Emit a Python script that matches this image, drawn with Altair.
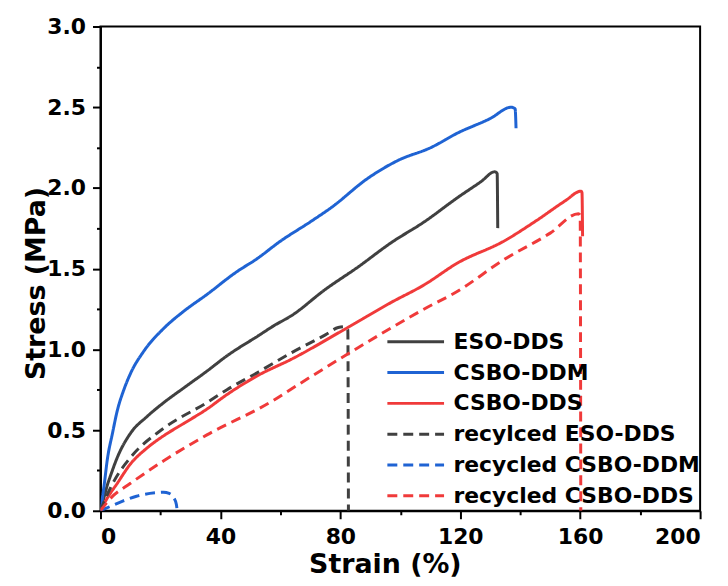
import altair as alt
import pandas as pd

series_names = ["ESO-DDS", "CSBO-DDM", "CSBO-DDS",
                "recylced ESO-DDS", "recycled CSBO-DDM", "recycled CSBO-DDS"]
series_colors = ["#404040", "#1f63d3", "#f03a3a", "#404040", "#1f63d3", "#f03a3a"]

eso_x = [0, 1, 2.3, 3.4, 5.6, 10, 15.6, 21.1, 27.7, 35.5, 42.2, 52.7, 57.7, 63.8, 74.9, 85.9, 96.9, 108, 119.1, 127, 131.5, 132.3, 132.5]
eso_y = [0, 0.07, 0.16, 0.22, 0.33, 0.48, 0.585, 0.67, 0.76, 0.865, 0.96, 1.085, 1.145, 1.21, 1.37, 1.51, 1.66, 1.79, 1.94, 2.04, 2.10, 2.09, 1.75]

ddm_x = [0, 1.2, 2.3, 4, 5.6, 7.8, 10, 14.5, 21.1, 27.7, 35.5, 45.4, 52.1, 60, 70, 77.1, 89.2, 99.2, 110.2, 119.1, 130, 137, 138.3, 138.6]
ddm_y = [0, 0.155, 0.32, 0.48, 0.62, 0.75, 0.85, 0.99, 1.13, 1.235, 1.34, 1.48, 1.56, 1.67, 1.79, 1.88, 2.06, 2.17, 2.25, 2.34, 2.43, 2.50, 2.49, 2.37]

dds_x = [0, 2, 5.6, 10, 15.6, 21.1, 27.7, 35.5, 42.2, 52.7, 63.8, 81.5, 96.9, 108, 119.1, 134.5, 145.6, 155, 160.3, 160.6, 160.8]
dds_y = [0, 0.07, 0.17, 0.29, 0.39, 0.465, 0.54, 0.63, 0.72, 0.84, 0.94, 1.125, 1.29, 1.40, 1.535, 1.67, 1.80, 1.92, 1.98, 1.97, 1.70]

r_eso_x = [0, 2, 5, 10, 21, 35.5, 42.2, 52.7, 63.8, 75, 79.3, 81.5, 82.5, 82.7]
r_eso_y = [0, 0.09, 0.2, 0.33, 0.51, 0.67, 0.75, 0.86, 0.98, 1.09, 1.135, 1.14, 1.12, 0]

r_ddm_x = [0, 3, 7.4, 12, 18.5, 21, 22.9, 24.5, 25.3, 25.6]
r_ddm_y = [0, 0.025, 0.06, 0.09, 0.112, 0.115, 0.108, 0.08, 0.04, 0]

r_dds_x = [0, 3.5, 10, 21.1, 35.5, 57.7, 63.8, 85.9, 108, 119.1, 134.5, 150, 159.4, 160, 160.2]
r_dds_y = [0, 0.08, 0.17, 0.31, 0.47, 0.684, 0.756, 1.01, 1.25, 1.36, 1.555, 1.72, 1.84, 1.83, 0]

x_major = [0, 40, 80, 120, 160, 200]
x_minor = [20, 60, 100, 140, 180]
y_major = [0, 0.5, 1.0, 1.5, 2.0, 2.5, 3.0]
y_minor = [0.25, 0.75, 1.25, 1.75, 2.25, 2.75]

all_x = [eso_x, ddm_x, dds_x, r_eso_x, r_ddm_x, r_dds_x]
all_y = [eso_y, ddm_y, dds_y, r_eso_y, r_ddm_y, r_dds_y]
rows = []
for name, xs, ys in zip(series_names, all_x, all_y):
    for i, (xv, yv) in enumerate(zip(xs, ys)):
        rows.append({"series": name, "strain": xv, "stress": yv, "idx": i})
df = pd.DataFrame(rows)

dashes = [[1, 0], [1, 0], [1, 0], [10, 6], [10, 6], [10, 6]]

FONT = "DejaVu Sans"
xscale = alt.Scale(domain=[0, 200], nice=False, zero=False)
yscale = alt.Scale(domain=[0, 3], nice=False)

legend = alt.Legend(
    title=None, orient="none", legendX=306, legendY=306,
    symbolType="M-3,0H3", symbolSize=361, symbolStrokeWidth=3,
    labelFont=FONT, labelFontWeight="bold", labelFontSize=22, labelColor="black",
    labelOffset=27, labelLimit=0, rowPadding=9, padding=0, fillColor="transparent",
)

main = alt.Chart(df).mark_line(strokeWidth=3, clip=True, interpolate="monotone").encode(
    x=alt.X("strain:Q", scale=xscale,
            axis=alt.Axis(values=x_major, title="Strain (%)", orient="bottom",
                          tickSize=8, labelPadding=8, titleX=286, titleY=62,
                          titleBaseline="alphabetic")),
    y=alt.Y("stress:Q", scale=yscale,
            axis=alt.Axis(values=y_major, format=".1f", title="Stress (MPa)", orient="left",
                          tickSize=8, labelPadding=7, titleX=-50, titleY=258)),
    color=alt.Color("series:N", scale=alt.Scale(domain=series_names, range=series_colors), legend=legend),
    strokeDash=alt.StrokeDash("series:N", scale=alt.Scale(domain=series_names, range=dashes), legend=legend),
    order=alt.Order("idx:Q"),
)

minor = alt.Chart(df).mark_point(opacity=0).encode(
    x=alt.X("strain:Q", scale=xscale,
            axis=alt.Axis(values=x_minor, labels=False, title=None, domain=False,
                          tickSize=4, orient="bottom")),
    y=alt.Y("stress:Q", scale=yscale,
            axis=alt.Axis(values=y_minor, labels=False, title=None, domain=False,
                          tickSize=4, orient="left")),
)

chart = alt.layer(main, minor).resolve_axis(x="independent", y="independent").properties(
    width=603, height=487,
    autosize=alt.AutoSizeParams(type="none"),
    padding={"left": 93, "top": 17, "right": 20, "bottom": 66},
).configure_view(stroke="black", strokeWidth=2).configure_axis(
    grid=False, domainColor="black", domainWidth=2, tickColor="black", tickWidth=2,
    labelFont=FONT, labelFontWeight="bold", labelFontSize=22, labelColor="black",
    titleFont=FONT, titleFontWeight="bold", titleFontSize=27, titleColor="black",
)

chart.save("out.html", embed_options={"renderer": "svg", "actions": False})
